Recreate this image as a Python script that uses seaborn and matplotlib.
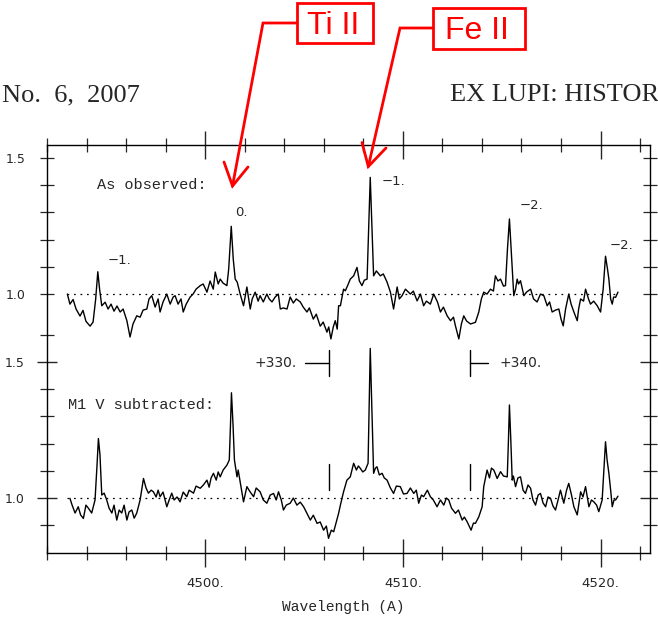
import numpy as np
import pandas as pd
import matplotlib
matplotlib.use("Agg")
import matplotlib.pyplot as plt
from matplotlib.lines import Line2D
from matplotlib.patches import Rectangle
from matplotlib.ticker import FixedLocator, FixedFormatter
import seaborn as sns

# ---------------- data ----------------
obs_wl = [4493.03, 4493.16, 4493.32, 4493.47, 4493.67, 4493.82, 4493.97, 4494.18, 4494.33, 4494.46,
          4494.57, 4494.66, 4494.77, 4494.94, 4495.09, 4495.24, 4495.39, 4495.54, 4495.70, 4495.85,
          4496.04, 4496.20, 4496.35, 4496.54, 4496.71, 4496.86, 4497.05, 4497.16, 4497.30, 4497.47,
          4497.62, 4497.72, 4497.87, 4498.06, 4498.23, 4498.38, 4498.48, 4498.63, 4498.78, 4498.89,
          4499.04, 4499.24, 4499.39, 4499.54, 4499.75, 4499.90, 4500.09, 4500.25, 4500.41, 4500.51,
          4500.66, 4500.76, 4500.91, 4501.10, 4501.19, 4501.32, 4501.42, 4501.52, 4501.62, 4501.77,
          4501.94, 4502.11, 4502.28, 4502.38, 4502.53, 4502.68, 4502.78, 4502.94, 4503.12, 4503.24,
          4503.38, 4503.54, 4503.70, 4503.80, 4503.95, 4504.14, 4504.30, 4504.46, 4504.61, 4504.81,
          4504.96, 4505.15, 4505.27, 4505.47, 4505.62, 4505.82, 4505.97, 4506.16, 4506.25, 4506.36,
          4506.48, 4506.58, 4506.68, 4506.75, 4506.84, 4507.00, 4507.09, 4507.24, 4507.34, 4507.51,
          4507.68, 4507.80, 4507.93, 4508.05, 4508.19, 4508.27, 4508.35, 4508.44, 4508.52, 4508.66,
          4508.86, 4509.01, 4509.20, 4509.37, 4509.53, 4509.71, 4509.82, 4509.96, 4510.13, 4510.38,
          4510.53, 4510.72, 4510.89, 4511.05, 4511.19, 4511.39, 4511.56, 4511.75, 4511.90, 4512.05,
          4512.24, 4512.41, 4512.56, 4512.66, 4512.83, 4512.96, 4513.08, 4513.22, 4513.42, 4513.67,
          4513.84, 4513.97, 4514.09, 4514.26, 4514.43, 4514.58, 4514.68, 4514.81, 4514.94, 4515.09,
          4515.19, 4515.29, 4515.39, 4515.49, 4515.61, 4515.70, 4515.78, 4515.85, 4515.95, 4516.12,
          4516.25, 4516.46, 4516.61, 4516.79, 4516.96, 4517.13, 4517.30, 4517.42, 4517.55, 4517.72,
          4517.89, 4518.00, 4518.11, 4518.23, 4518.39, 4518.51, 4518.65, 4518.82, 4518.89, 4518.99,
          4519.14, 4519.24, 4519.39, 4519.49, 4519.65, 4519.83, 4520.00, 4520.13, 4520.25, 4520.35,
          4520.42, 4520.51, 4520.59, 4520.66, 4520.76, 4520.88]
obs_flux = [1.000, 0.963, 0.980, 0.945, 0.919, 0.940, 0.900, 0.882, 0.897, 0.980,
            1.082, 1.018, 0.957, 0.970, 0.945, 0.963, 0.937, 0.956, 0.934, 0.945,
            0.902, 0.842, 0.890, 0.920, 0.915, 0.941, 0.945, 0.982, 0.994, 0.952,
            0.982, 0.934, 0.971, 1.000, 0.963, 0.989, 0.994, 0.963, 0.982, 0.934,
            0.963, 0.989, 1.000, 1.018, 1.031, 1.037, 1.007, 1.048, 1.018, 1.081,
            1.037, 1.055, 1.040, 1.031, 1.092, 1.249, 1.129, 1.055, 1.044, 1.000,
            0.957, 1.026, 0.945, 0.982, 1.007, 0.974, 0.994, 0.971, 1.000, 0.982,
            0.971, 0.989, 1.000, 0.945, 0.949, 0.945, 0.989, 0.967, 0.982, 0.971,
            0.952, 0.934, 0.949, 0.908, 0.926, 0.882, 0.897, 0.860, 0.879, 0.835,
            0.879, 0.902, 0.871, 0.957, 0.957, 1.018, 1.012, 1.037, 1.055, 1.067,
            1.098, 1.048, 1.031, 1.051, 1.055, 1.239, 1.429, 1.239, 1.067, 1.085,
            1.067, 1.074, 1.044, 1.007, 0.945, 1.026, 0.982, 0.994, 1.018, 1.000,
            1.011, 0.975, 1.000, 0.957, 0.974, 0.963, 1.000, 0.971, 0.934, 0.952,
            0.920, 0.902, 0.915, 0.883, 0.835, 0.890, 0.920, 0.901, 0.890, 0.896,
            0.934, 0.982, 1.007, 1.000, 1.018, 1.011, 1.067, 1.048, 1.055, 1.029,
            1.031, 1.165, 1.276, 1.147, 0.994, 1.018, 1.055, 1.037, 1.049, 0.994,
            1.007, 1.018, 0.982, 0.971, 1.000, 0.994, 0.957, 0.971, 0.934, 0.941,
            0.945, 0.908, 0.883, 0.945, 1.000, 0.963, 0.934, 0.902, 0.945, 0.982,
            0.974, 1.018, 0.982, 0.963, 0.974, 0.957, 0.934, 1.018, 1.139, 1.092,
            1.055, 0.982, 0.963, 0.989, 0.988, 1.007]

sub_wl = [4493.16, 4493.27, 4493.42, 4493.58, 4493.70, 4493.84, 4493.97, 4494.09, 4494.26, 4494.43,
          4494.53, 4494.60, 4494.68, 4494.77, 4494.89, 4495.02, 4495.14, 4495.28, 4495.39, 4495.53,
          4495.65, 4495.78, 4495.90, 4496.04, 4496.15, 4496.29, 4496.41, 4496.54, 4496.71, 4496.88,
          4497.01, 4497.13, 4497.27, 4497.38, 4497.52, 4497.62, 4497.72, 4497.87, 4498.06, 4498.18,
          4498.31, 4498.43, 4498.58, 4498.73, 4498.89, 4499.07, 4499.19, 4499.41, 4499.54, 4499.75,
          4499.91, 4500.09, 4500.20, 4500.30, 4500.42, 4500.56, 4500.66, 4500.76, 4500.91, 4501.10,
          4501.22, 4501.28, 4501.33, 4501.41, 4501.48, 4501.61, 4501.67, 4501.77, 4501.94, 4502.11,
          4502.28, 4502.45, 4502.58, 4502.78, 4502.94, 4503.12, 4503.29, 4503.46, 4503.59, 4503.71,
          4503.85, 4503.96, 4504.10, 4504.30, 4504.46, 4504.64, 4504.81, 4504.98, 4505.11, 4505.32,
          4505.47, 4505.66, 4505.82, 4505.99, 4506.13, 4506.24, 4506.38, 4506.50, 4506.63, 4506.75,
          4506.84, 4507.00, 4507.17, 4507.34, 4507.51, 4507.65, 4507.75, 4507.85, 4507.97, 4508.10,
          4508.24, 4508.30, 4508.35, 4508.42, 4508.52, 4508.61, 4508.69, 4508.81, 4508.95, 4509.06,
          4509.20, 4509.37, 4509.53, 4509.67, 4509.87, 4510.03, 4510.21, 4510.38, 4510.55, 4510.68,
          4510.80, 4510.94, 4511.05, 4511.24, 4511.39, 4511.54, 4511.73, 4511.90, 4512.07, 4512.20,
          4512.32, 4512.46, 4512.66, 4512.81, 4513.00, 4513.11, 4513.25, 4513.45, 4513.57, 4513.67,
          4513.84, 4514.01, 4514.09, 4514.26, 4514.38, 4514.48, 4514.60, 4514.77, 4514.94, 4515.09,
          4515.28, 4515.34, 4515.39, 4515.46, 4515.53, 4515.59, 4515.70, 4515.82, 4515.95, 4516.08,
          4516.20, 4516.33, 4516.46, 4516.58, 4516.71, 4516.84, 4516.96, 4517.09, 4517.22, 4517.34,
          4517.47, 4517.59, 4517.72, 4517.85, 4517.97, 4518.14, 4518.28, 4518.39, 4518.53, 4518.65,
          4518.82, 4518.99, 4519.11, 4519.24, 4519.41, 4519.54, 4519.66, 4519.80, 4519.91, 4520.08,
          4520.17, 4520.25, 4520.33, 4520.42, 4520.51, 4520.59, 4520.68, 4520.76, 4520.88]
sub_flux = [0.999, 0.974, 0.945, 0.968, 0.938, 0.925, 0.974, 0.963, 0.945, 0.993,
            1.121, 1.219, 1.158, 1.011, 1.018, 0.993, 0.963, 0.945, 0.974, 0.919,
            0.956, 0.945, 0.974, 0.919, 0.949, 0.956, 0.926, 0.945, 0.993, 1.072,
            1.037, 1.018, 1.029, 1.023, 1.004, 1.029, 1.005, 1.022, 0.968, 0.993,
            1.018, 0.993, 1.004, 0.986, 1.022, 1.005, 1.029, 1.018, 1.044, 1.036,
            1.048, 1.066, 1.040, 1.074, 1.091, 1.066, 1.096, 1.078, 1.103, 1.121,
            1.140, 1.268, 1.387, 1.268, 1.140, 1.078, 1.103, 1.060, 0.986, 1.042,
            1.022, 1.005, 1.037, 1.023, 0.993, 0.981, 1.011, 1.017, 0.993, 1.023,
            0.993, 0.956, 0.974, 0.981, 1.000, 0.974, 0.985, 0.968, 0.949, 0.919,
            0.937, 0.907, 0.912, 0.882, 0.897, 0.852, 0.882, 0.876, 0.912, 0.944,
            0.974, 1.023, 1.066, 1.078, 1.128, 1.103, 1.118, 1.109, 1.096, 1.103,
            1.128, 1.360, 1.550, 1.360, 1.091, 1.110, 1.115, 1.085, 1.091, 1.074,
            1.066, 1.037, 1.017, 1.044, 1.042, 1.015, 1.017, 1.037, 1.017, 1.029,
            0.981, 1.011, 1.005, 1.029, 1.005, 0.993, 0.968, 0.993, 0.974, 1.000,
            0.993, 0.963, 0.944, 0.956, 0.919, 0.930, 0.913, 0.882, 0.908, 0.907,
            0.931, 0.968, 1.042, 1.103, 1.074, 1.110, 1.103, 1.072, 1.097, 1.081,
            1.078, 1.213, 1.342, 1.213, 1.066, 1.081, 1.042, 1.074, 1.078, 1.029,
            1.017, 1.048, 1.036, 0.993, 0.974, 1.011, 1.017, 0.982, 0.968, 1.004,
            0.999, 0.971, 0.956, 0.993, 1.029, 0.981, 1.029, 1.054, 1.011, 0.968,
            0.938, 1.023, 1.004, 1.042, 0.968, 0.993, 0.986, 0.974, 0.950, 0.993,
            1.103, 1.207, 1.140, 1.091, 1.029, 0.968, 0.993, 0.993, 1.007]

panel_offset = 0.75          # vertical shift of the "As observed" spectrum
continuum_range = [4493.0, 4520.9]

peak_labels = ["\u22121.", "0.", "\u22121.", "\u22122.", "\u22122."]
peak_label_wl = [4495.09, 4501.52, 4508.91, 4515.90, 4520.46]
peak_label_flux = [1.125, 1.301, 1.415, 1.327, 1.180]

vel_labels = ["+330.", "+340."]
vel_wl = [4506.24, 4513.42]

x_major = [4500, 4510, 4520]
x_major_labels = ["4500.", "4510.", "4520."]
x_minor = [4492, 4494, 4496, 4498, 4502, 4504, 4506, 4508, 4512, 4514, 4516, 4518, 4522]

# ---------------- figure ----------------
sns.set_style("ticks")
plt.rcParams["font.family"] = ["DejaVu Sans"]

W, H = 658, 619
fig = plt.figure(figsize=(W / 100, H / 100), dpi=100)
ax = fig.add_axes([47 / W, 1 - 553 / H, (650 - 47) / W, (553 - 145) / H])

obs_df = pd.DataFrame({"wl": obs_wl, "y": np.array(obs_flux) + panel_offset})
sub_df = pd.DataFrame({"wl": sub_wl, "y": sub_flux})
sns.lineplot(data=obs_df, x="wl", y="y", ax=ax, color="black", lw=1.0,
             estimator=None, sort=False)
sns.lineplot(data=sub_df, x="wl", y="y", ax=ax, color="black", lw=1.0,
             estimator=None, sort=False)

# continuum levels (dotted)
for base in (1.0 + panel_offset, 1.0):
    ax.plot(continuum_range, [base, base], color="black", lw=0.9,
            linestyle=(0, (1.4, 3.8)))

ax.set_xlim(4492, 4522.5)
ax.set_ylim(0.798, 2.298)

# ---- ticks ----
ax.xaxis.set_major_locator(FixedLocator(x_major))
ax.xaxis.set_major_formatter(FixedFormatter(x_major_labels))
ax.xaxis.set_minor_locator(FixedLocator(x_minor))
ax.tick_params(axis="x", which="major", direction="inout", length=19.5, width=1.0,
               top=True, bottom=True, labelsize=9.5, pad=7.5)
ax.tick_params(axis="x", which="minor", direction="inout", length=10, width=0.9,
               top=True, bottom=True)

y_major = [1.0, 1.5]
y_minor = [0.9, 1.1, 1.2, 1.3, 1.4, 1.6,
           1.75, 1.85, 1.95, 2.05, 2.15, 2.25]
y_minor_labels = ["", "", "", "", "", "", "1.0", "", "", "", "", "1.5"]
ax.yaxis.set_major_locator(FixedLocator(y_major))
ax.yaxis.set_major_formatter(FixedFormatter(["1.0", "1.5"]))
ax.yaxis.set_minor_locator(FixedLocator(y_minor))
ax.yaxis.set_minor_formatter(FixedFormatter(y_minor_labels))
ax.tick_params(axis="y", which="major", direction="inout", length=15, width=1.0,
               left=True, right=True, labelsize=9, pad=9.0)
ax.tick_params(axis="y", which="minor", direction="inout", length=9.4, width=0.9,
               left=True, right=True, labelsize=9, pad=10.8)
for sp in ax.spines.values():
    sp.set_linewidth(1.0)
    sp.set_color("black")

ax.set_xlabel("")
ax.set_ylabel("")
ax.text((343 - 47) / (650 - 47), (553 - 607) / (553 - 145), "Wavelength (A)",
        transform=ax.transAxes, ha="center", va="center",
        family=["Liberation Mono"], fontsize=10.5)

# ---- panel titles ----
ax.text(4494.53, 1.40 + panel_offset, "As observed:", family=["Liberation Mono"],
        fontsize=11, ha="left", va="center")
ax.text(4493.06, 1.342, "M1 V subtracted:", family=["Liberation Mono"],
        fontsize=11, ha="left", va="center")

# ---- peak labels ----
for lab, wl, fl in zip(peak_labels, peak_label_wl, peak_label_flux):
    ax.text(wl, fl + panel_offset, lab, fontsize=9.5, ha="left", va="center")

# ---- velocity markers ----
for i, (lab, wl) in enumerate(zip(vel_labels, vel_wl)):
    ax.plot([wl, wl], [1.449, 1.544], color="black", lw=1.0)
    ax.plot([wl, wl], [1.029, 1.125], color="black", lw=1.0)
    if i == 0:
        ax.plot([wl - 1.2, wl], [1.496, 1.496], color="black", lw=1.0)
        ax.text(wl - 1.6, 1.496, lab, fontsize=10, ha="right", va="center")
    else:
        ax.plot([wl, wl + 0.9], [1.496, 1.496], color="black", lw=1.0)
        ax.text(wl + 1.47, 1.496, lab, fontsize=10, ha="left", va="center")

# ---- page header ----
fig.text(2 / W, 1 - 95 / H, "No.  6,  2007", family=["Liberation Serif"],
         fontsize=19, ha="left", va="center")
fig.text(450 / W, 1 - 95 / H, "EX LUPI: HISTOR", family=["Liberation Serif"],
         fontsize=19, ha="left", va="center")

# ---- red annotations ----
def px(x, y):
    return x / W, 1 - y / H

red = "#ff0000"
def red_line(pts, lw=2.0):
    xs = [p[0] / W for p in pts]
    ys = [1 - p[1] / H for p in pts]
    fig.add_artist(Line2D(xs, ys, color=red, lw=lw, transform=fig.transFigure,
                          solid_capstyle="round", solid_joinstyle="miter"))

def red_box(x0, y0, x1, y1, text):
    fig.add_artist(Rectangle(px(x0, y1), (x1 - x0) / W, (y1 - y0) / H,
                             fill=False, ec=red, lw=2.0, transform=fig.transFigure))
    fig.text((x0 + x1) / 2 / W - 2 / W, 1 - ((y0 + y1) / 2 + 2.5) / H, text, color=red,
             family=["Liberation Sans"], fontsize=23, ha="center", va="center")

red_box(297, 3, 373, 43, "Ti II")
red_line([(297, 23), (263, 23), (232.5, 186)])
red_line([(224, 162), (232.5, 186), (248, 167)])

red_box(433, 8, 525, 49, "Fe II")
red_line([(433, 28), (400, 28), (368.3, 166.5)])
red_line([(362, 142.5), (368.3, 166.5), (386, 148)])

fig.savefig("out.png", dpi=100)
